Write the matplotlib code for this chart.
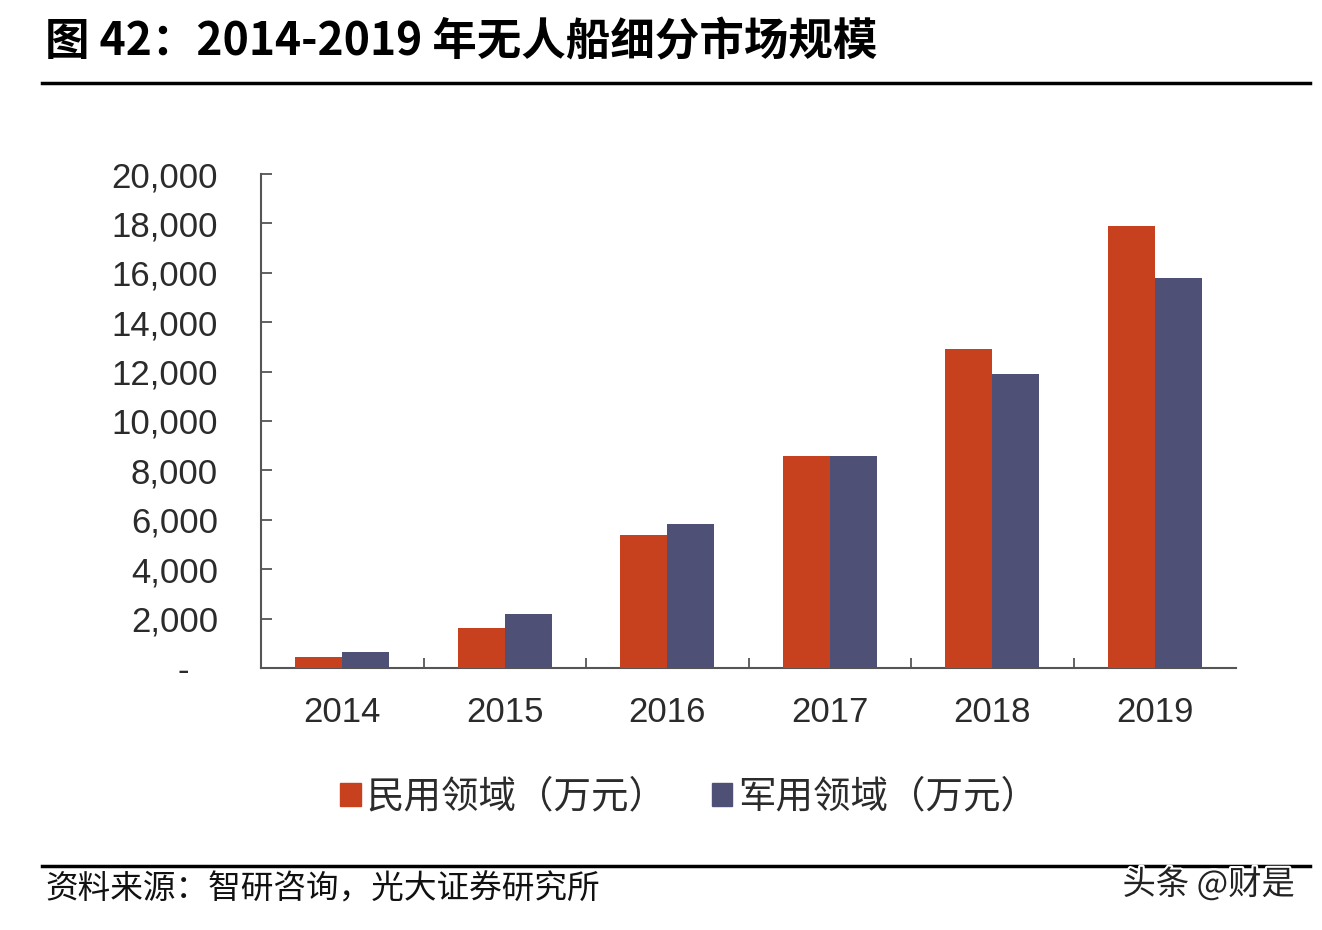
# 2014-2019 unmanned ship market segments, grouped bar chart
import matplotlib.pyplot as plt
from matplotlib.patches import Patch
import matplotlib.patheffects as pe
import numpy as np

# data (万元)
years = ['2014', '2015', '2016', '2017', '2018', '2019']
civil = [450, 1600, 5400, 8600, 12900, 17900]
military = [650, 2200, 5850, 8600, 11900, 15800]
yticks = [0, 2000, 4000, 6000, 8000, 10000, 12000, 14000, 16000, 18000, 20000]
ytick_labels = ['-   '] + ['{:,}'.format(v) for v in yticks[1:]]
series_names = ['民用领域（万元）', '军用领域（万元）']

c_civil = '#C8411E'
c_mil = '#4F5075'
axis_col = '#555555'
text_col = '#2b2b2b'
cjk = ['Noto Sans CJK SC', 'DejaVu Sans']
num = ['Liberation Sans', 'DejaVu Sans']

fig = plt.figure(figsize=(13.22, 9.30), dpi=100)
fig.patch.set_facecolor('white')

# axes box from pixel positions of the reference
ax = fig.add_axes([261 / 1322, 1 - 668 / 930, 975 / 1322, 494 / 930])

x = np.arange(len(years))
w = 0.29
ax.bar(x - w / 2, civil, width=w, color=c_civil, zorder=3)
ax.bar(x + w / 2, military, width=w, color=c_mil, zorder=3)

ax.set_xlim(-0.5, len(years) - 0.5)
ax.set_ylim(0, 20000)

for s in ['top', 'right']:
    ax.spines[s].set_visible(False)
for s in ['left', 'bottom']:
    ax.spines[s].set_color(axis_col)
    ax.spines[s].set_linewidth(1.5)

ax.set_yticks(yticks)
ax.set_yticklabels(ytick_labels, family=num, fontsize=25, color=text_col)
ax.tick_params(axis='y', direction='in', length=8, width=1.3, color=axis_col, pad=31)

ax.set_xticks(x)
ax.set_xticklabels(years, family=num, fontsize=25, color=text_col)
ax.tick_params(axis='x', which='major', length=0, pad=20)
ax.set_xticks(x[:-1] + 0.5, minor=True)
ax.tick_params(axis='x', which='minor', direction='in', length=7, width=1.3, color=axis_col)

# legend
handles = [Patch(color=c_civil), Patch(color=c_mil)]
leg = fig.legend(handles, series_names, loc='center', bbox_to_anchor=(689 / 1322, 1 - 797 / 930),
                 ncol=2, frameon=False, handlelength=0.55, handleheight=0.55,
                 handletextpad=0.15, columnspacing=1.2,
                 prop={'family': cjk, 'size': 27})
for t in leg.get_texts():
    t.set_color(text_col)

# title and rules
fig.text(45 / 1322, 1 - 42 / 930, '图 42：2014-2019 年无人船细分市场规模', family=cjk,
         fontsize=32, fontweight='bold', color='black', va='center', ha='left')
fig.add_artist(plt.Line2D([42 / 1322, 1310 / 1322], [1 - 83 / 930, 1 - 83 / 930],
                          color='black', linewidth=2.5))
fig.add_artist(plt.Line2D([42 / 1322, 1310 / 1322], [1 - 866 / 930, 1 - 866 / 930],
                          color='black', linewidth=2.5))

# source and watermark
fig.text(45 / 1322, 1 - 889 / 930, '资料来源：智研咨询，光大证券研究所', family=cjk,
         fontsize=23.5, color='#111111', va='center', ha='left')
fig.text(1295 / 1322, 1 - 885 / 930, '头条 @财是', family=cjk, fontsize=24,
         color='#222222', va='center', ha='right',
         path_effects=[pe.withStroke(linewidth=3, foreground='white')])

fig.savefig('out.png', dpi=100, facecolor='white')
